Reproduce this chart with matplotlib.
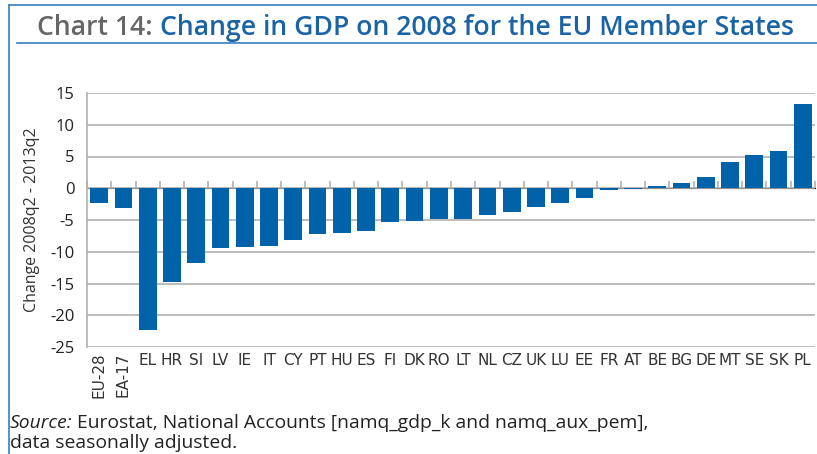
import matplotlib
matplotlib.use("Agg")
import matplotlib.pyplot as plt
from matplotlib import font_manager as fm
import numpy as np

countries = ["EU-28", "EA-17", "EL", "HR", "SI", "LV", "IE", "IT", "CY", "PT",
             "HU", "ES", "FI", "DK", "RO", "LT", "NL", "CZ", "UK", "LU",
             "EE", "FR", "AT", "BE", "BG", "DE", "MT", "SE", "SK", "PL"]
change = [-2.4, -3.1, -22.3, -14.7, -11.7, -9.4, -9.2, -9.1, -8.2, -7.2,
          -7.0, -6.8, -5.3, -5.1, -4.8, -4.8, -4.2, -3.7, -2.9, -2.4,
          -1.6, -0.2, -0.1, 0.4, 0.8, 1.7, 4.2, 5.3, 5.8, 13.3]
yticks = [15, 10, 5, 0, -5, -10, -15, -20, -25]

names = {f.name for f in fm.fontManager.ttflist}
narrow = "Liberation Sans Narrow" if "Liberation Sans Narrow" in names else "DejaVu Sans"
main = "Open Sans" if "Open Sans" in names else "DejaVu Sans"

BLUE = "#0062a8"
GRID = "#b0b0b0"

fig = plt.figure(figsize=(8.17, 4.54), dpi=100)
W, H = 817, 454

# frame lines
fig.add_artist(plt.Line2D([9 / W, 9 / W], [0, 1 - 5 / H], color="#3a7dc0", lw=1.2))
fig.add_artist(plt.Line2D([9 / W, 1], [1 - 5 / H, 1 - 5 / H], color="#3a7dc0", lw=1.2))
fig.add_artist(plt.Line2D([17 / W, 1], [1 - 43 / H, 1 - 43 / H], color="#3a7dc0", lw=1.2))

# title
t1 = fig.text(37 / W, 1 - 35 / H, "Chart 14: ", color="#666666", fontsize=19.2,
              family=main, fontweight="semibold", va="baseline", ha="left")
fig.canvas.draw()
bb = t1.get_window_extent()
fig.text(bb.x1 / W, 1 - 35 / H, "Change in GDP on 2008 for the EU Member States",
         color="#1a64a6", fontsize=19.2, family=main, fontweight="semibold",
         va="baseline", ha="left")

left, right = 87 / W, 815 / W
top, bottom = 1 - 93 / H, 1 - 347 / H
ax = fig.add_axes([left, bottom, right - left, top - bottom])

x = np.arange(len(countries))
ax.bar(x, change, width=0.73, color=BLUE, zorder=3)
ax.set_xlim(-0.5, len(countries) - 0.5)
ax.set_ylim(-25, 15)
ax.set_yticks(yticks)
ax.set_yticklabels([str(v) for v in yticks], family=main, fontsize=12, color="#222222")
ax.yaxis.grid(True, color=GRID, lw=1.2, zorder=0)
ax.tick_params(axis="y", length=0, pad=9)
ax.tick_params(axis="x", length=0, pad=4)
ax.set_xticks(x)
ax.set_xticklabels(countries, family=narrow, fontsize=11, color="#333333")
for lbl in ax.get_xticklabels():
    if lbl.get_text() in ("EU-28", "EA-17"):
        lbl.set_rotation(90)
        lbl.set_va("top")
for s in ["top", "right", "bottom"]:
    ax.spines[s].set_visible(False)
ax.spines["left"].set_color(GRID)
ax.spines["left"].set_linewidth(1.2)

ax.set_ylabel("Change 2008q2 - 2013q2", family=main, fontsize=11.5, color="#333333", labelpad=7)

# boundary ticks on the zero line
sec = ax.secondary_xaxis(25 / 40)
sec.set_xticks(np.arange(len(countries) + 1) - 0.5)
sec.set_xticklabels([])
sec.tick_params(axis="x", direction="out", length=5, color=GRID, width=1.2)
sec.spines["bottom"].set_visible(False)

# source
s1 = fig.text(10 / W, 1 - 428 / H, "Source:", style="italic", family=main, fontsize=13.9,
              color="#222222", va="baseline")
fig.canvas.draw()
sb = s1.get_window_extent()
fig.text((sb.x1 + 4) / W, 1 - 428 / H, "Eurostat, National Accounts [namq_gdp_k and namq_aux_pem],",
         family=main, fontsize=13.9, color="#222222", va="baseline")
fig.text(10 / W, 1 - 448 / H, "data seasonally adjusted.", family=main, fontsize=13.9,
         color="#222222", va="baseline")

fig.savefig("out.png", dpi=100, facecolor="white")
